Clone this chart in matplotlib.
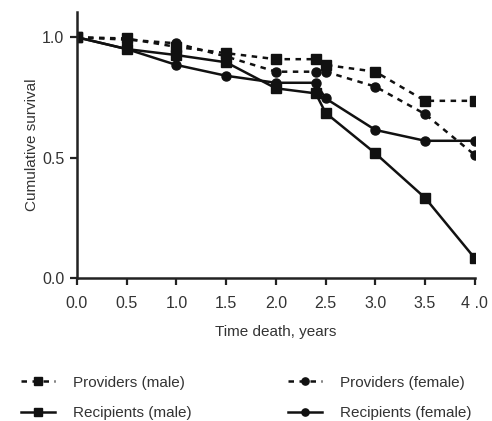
import matplotlib
matplotlib.use("Agg")
import matplotlib.pyplot as plt

plt.rcParams['font.family'] = ['Liberation Sans', 'DejaVu Sans']

time = [0.0, 0.5, 1.0, 1.5, 2.0, 2.4, 2.5, 3.0, 3.5, 4.0]
providers_male = [1.0, 0.995, 0.96, 0.934, 0.909, 0.909, 0.885, 0.857, 0.736, 0.736]
providers_female = [1.0, 0.99, 0.975, 0.92, 0.857, 0.857, 0.857, 0.795, 0.681, 0.511]
recipients_male = [1.0, 0.951, 0.926, 0.896, 0.788, 0.767, 0.686, 0.518, 0.333, 0.082]
recipients_female = [1.0, 0.951, 0.885, 0.840, 0.811, 0.811, 0.746, 0.615, 0.570, 0.570]

xticks = [0.0, 0.5, 1.0, 1.5, 2.0, 2.5, 3.0, 3.5, 4.0]
xticklabels = ["0.0", "0.5", "1.0", "1.5", "2.0", "2.5", "3.0", "3.5", "4 .0"]
yticks = [0.0, 0.5, 1.0]
yticklabels = ["0.0", "0.5", "1.0"]

txt = '#333333'
fig = plt.figure(figsize=(4.92, 4.21), dpi=100)
ax = fig.add_axes([0.1565, 0.3397, 0.8085, 0.6318])

lw = 1.8
h1, = ax.plot(time, providers_male, color='#111111', lw=lw, ls=(0, (2.2, 2.2)), marker='s', ms=6.5)
h2, = ax.plot(time, recipients_male, color='#111111', lw=lw, ls='-', marker='s', ms=6.5)
h3, = ax.plot(time, providers_female, color='#111111', lw=lw, ls=(0, (2.2, 2.2)), marker='o', ms=6.5)
h4, = ax.plot(time, recipients_female, color='#111111', lw=lw, ls='-', marker='o', ms=6.5)

ax.set_xlim(0, 4.0)
ax.set_ylim(0, 1.105)
ax.set_xticks(xticks)
ax.set_xticklabels(xticklabels)
ax.set_yticks(yticks)
ax.set_yticklabels(yticklabels)
for s in ['top', 'right']:
    ax.spines[s].set_visible(False)
for s in ['left', 'bottom']:
    ax.spines[s].set_linewidth(1.8)
    ax.spines[s].set_color('#222222')
ax.tick_params(axis='both', direction='out', length=5, width=1.6, color='#222222',
               labelsize=11.5, labelcolor=txt, pad=4)
ax.tick_params(axis='x', pad=8)
ax.set_xlabel("Time death, years", fontsize=11, color=txt, labelpad=10)
ax.set_ylabel("Cumulative survival", fontsize=11, color=txt, labelpad=2)

leg = fig.legend([h1, h2, h3, h4],
                 ["Providers (male)", "Recipients (male)", "Providers (female)", "Recipients (female)"],
                 ncol=2, loc='lower left', bbox_to_anchor=(0.015, -0.03), frameon=False,
                 fontsize=11, labelcolor=txt, handlelength=2.2, handletextpad=1.2,
                 columnspacing=6.3, labelspacing=1.05, markerscale=0.8)

fig.savefig("out.png", dpi=100)
